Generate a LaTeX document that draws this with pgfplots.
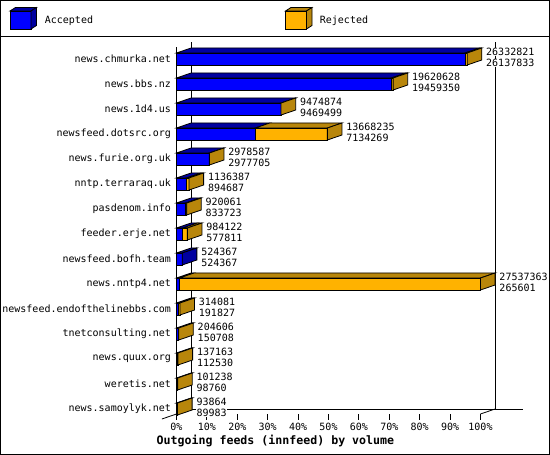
\documentclass[border=0pt]{standalone}
\usepackage{fontspec}
\setmainfont{DejaVu Sans Mono}
\usepackage{pgfplots}
\pgfplotsset{compat=1.18}
\usepackage{pgfplotstable}

\definecolor{acc}{RGB}{0,0,255}
\definecolor{accdark}{RGB}{0,0,160}
\definecolor{rej}{RGB}{255,178,0}
\definecolor{rejdark}{RGB}{184,134,11}
\newcommand\lblfont{\fontsize{10}{11}\selectfont}

% outgoing feeds: total offered and accepted articles
\pgfplotstableread[col sep=comma]{
name,tot,acc
news.chmurka.net,26332821,26137833
news.bbs.nz,19620628,19459350
news.1d4.us,9474874,9469499
newsfeed.dotsrc.org,13668235,7134269
news.furie.org.uk,2978587,2977705
nntp.terraraq.uk,1136387,894687
pasdenom.info,920061,833723
feeder.erje.net,984122,577811
newsfeed.bofh.team,524367,524367
news.nntp4.net,27537363,265601
newsfeed.endofthelinebbs.com,314081,191827
tnetconsulting.net,204606,150708
news.quux.org,137163,112530
weretis.net,101238,98760
news.samoylyk.net,93864,89983
}\feeds

\def\maxtot{27537363}
\def\dX{4.8}  % depth, x (percent)
\def\dY{0.2}  % depth, y (rows)
\def\hh{0.24} % half bar height

% one 3d bar: accepted part, rejected part, top faces, end face
\newcommand\barrow[1]{%
  \pgfplotstablegetelem{#1}{acc}\of\feeds\edef\A{\pgfplotsretval}%
  \pgfplotstablegetelem{#1}{tot}\of\feeds\edef\T{\pgfplotsretval}%
  \begingroup
    \pgfkeys{/pgf/fpu=true,/pgf/fpu/output format=fixed}%
    \pgfmathparse{\A/\maxtot*100}\xdef\xa{\pgfmathresult}%
    \pgfmathparse{\T/\maxtot*100}\xdef\xt{\pgfmathresult}%
  \endgroup
  \pgfmathsetmacro\xad{\xa+\dX}%
  \pgfmathsetmacro\xtd{\xt+\dX}%
  \pgfmathsetmacro\yt{-#1+\hh}%
  \pgfmathsetmacro\yb{-#1-\hh}%
  \pgfmathsetmacro\ytt{-#1+\hh+\dY}%
  \pgfmathsetmacro\ybb{-#1-\hh+\dY}%
  \ifnum\T>\A\relax\def\sidecol{rejdark}\else\def\sidecol{accdark}\fi
  \edef\doit{%
    \noexpand\addplot[fill=acc] coordinates {(0,\yb) (\xa,\yb) (\xa,\yt) (0,\yt)} -- cycle;
    \noexpand\addplot[fill=accdark] coordinates {(0,\yt) (\xa,\yt) (\xad,\ytt) (\dX,\ytt)} -- cycle;
    \noexpand\addplot[fill=rej] coordinates {(\xa,\yb) (\xt,\yb) (\xt,\yt) (\xa,\yt)} -- cycle;
    \noexpand\addplot[fill=rejdark] coordinates {(\xa,\yt) (\xt,\yt) (\xtd,\ytt) (\xad,\ytt)} -- cycle;
    \noexpand\addplot[fill=\sidecol] coordinates {(\xt,\yb) (\xtd,\ybb) (\xtd,\ytt) (\xt,\yt)} -- cycle;
  }\doit
}

\newcommand\cube[3]{%
  \filldraw[fill=#2] (#1,426) rectangle ++(21,18);
  \filldraw[fill=#3] (#1,444) -- ++(21,0) -- ++(5.5,3.5) -- ++(-21,0) -- cycle;
  \filldraw[fill=#3] (#1+21,426) -- ++(5.5,3.5) -- ++(0,18) -- ++(-5.5,-3.5) -- cycle;
}

\begin{document}
\begin{tikzpicture}[x=1pt, y=1pt, line width=0.8pt]
  \path[use as bounding box] (0,0) rectangle (550,455);
  \draw[line width=1pt] (0.5,0.5) rectangle (549.5,454.5);
  \draw (0,419) -- (550,419);

  % legend
  \cube{10}{acc}{accdark}
  \node[anchor=west, inner sep=0pt, font=\lblfont] at (44.5,434) {Accepted};
  \cube{285.5}{rej}{rejdark}
  \node[anchor=west, inner sep=0pt, font=\lblfont] at (319.5,434) {Rejected};

  \begin{axis}[
    at={(176.5pt,41pt)}, anchor=south west,
    scale only axis, width=304pt, height=367pt,
    xmin=0, xmax=100, ymin=-14.2, ymax=0.48,
    clip=false,
    axis lines=left, axis line style={-, line width=0.8pt},
    x axis line style={draw=none},
    xtick={0,10,...,100},
    xticklabels={0\%,10\%,20\%,30\%,40\%,50\%,60\%,70\%,80\%,90\%,100\%},
    ytick={-14,-13,...,0},
    yticklabels={news.samoylyk.net,weretis.net,news.quux.org,tnetconsulting.net,
      newsfeed.endofthelinebbs.com,news.nntp4.net,newsfeed.bofh.team,feeder.erje.net,
      pasdenom.info,nntp.terraraq.uk,news.furie.org.uk,newsfeed.dotsrc.org,
      news.1d4.us,news.bbs.nz,news.chmurka.net},
    tick align=outside, major tick length=6pt,
    xtick style={black, line width=0.8pt},
    ytick style={draw=none},
    yticklabel style={xshift=4pt},
    tick label style={font=\lblfont},
    every axis plot/.append style={draw=black, line width=0.8pt, line join=miter},
  ]
    % back wall and floor
    \addplot[mark=none] coordinates {(\dX,-14.0) (\dX,0.68)};
    \addplot[mark=none] coordinates {(104.8,-14.0) (104.8,0.68)};
    \addplot[mark=none] coordinates {(\dX,-14.0) (114,-14.0)};
    \addplot[mark=none] coordinates {(-4.8,-14.4) (\dX,-14.0)};
    \addplot[mark=none] coordinates {(100,-14.2) (104.8,-14.0)};

    \pgfplotsinvokeforeach{0,...,14}{\barrow{#1}}

    % value labels: total above, accepted below
    \addplot[draw=none, nodes near coords, point meta=explicit symbolic,
      nodes near coords align=horizontal,
      every node near coord/.append style={anchor=west, font=\lblfont,
        inner sep=0.5pt, fill=white, xshift=3.5pt, yshift=7pt}]
      table[x expr=\thisrow{tot}/27537363*100+4.8, y expr=-\coordindex, meta=tot]{\feeds};
    \addplot[draw=none, nodes near coords, point meta=explicit symbolic,
      nodes near coords align=horizontal,
      every node near coord/.append style={anchor=west, font=\lblfont,
        inner sep=0.5pt, fill=white, xshift=3.5pt, yshift=-4pt}]
      table[x expr=\thisrow{tot}/27537363*100+4.8, y expr=-\coordindex, meta=acc]{\feeds};
  \end{axis}

  \node[anchor=west, inner sep=0pt, font=\bfseries\fontsize{11.6}{13}\selectfont]
    at (156.5,14) {Outgoing feeds (innfeed) by volume};
\end{tikzpicture}
\end{document}
